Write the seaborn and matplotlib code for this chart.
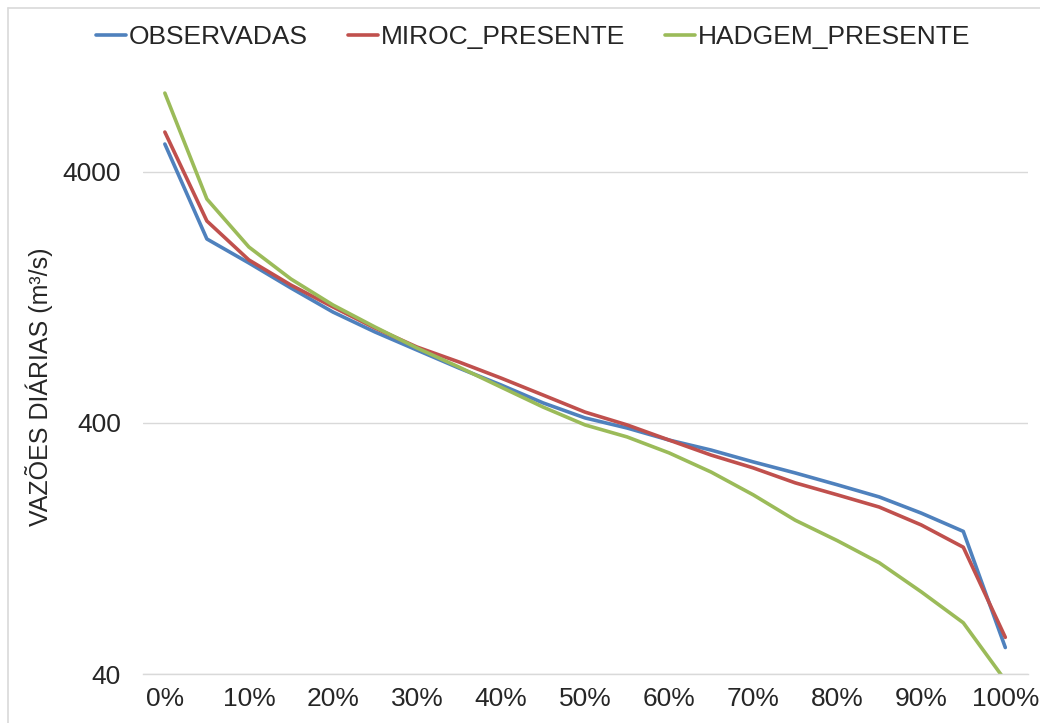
import numpy as np
import pandas as pd
import seaborn as sns
import matplotlib.pyplot as plt
from matplotlib.lines import Line2D
from matplotlib.ticker import FixedLocator, NullLocator, FuncFormatter

# Permanence (% of time) and daily flows
permanencia = [0, 5, 10, 15, 20, 25, 30, 35, 40, 45, 50,
               55, 60, 65, 70, 75, 80, 85, 90, 95, 100]
observadas = [5170, 2164, 1736, 1380, 1107, 922, 781, 662, 567, 481, 419,
              382, 342, 312, 280, 253, 227, 203, 175, 148, 51]
miroc_presente = [5770, 2552, 1785, 1418, 1160, 956, 803, 700, 604, 517, 442,
                  393, 342, 298, 265, 231, 207, 185, 157, 128, 56]
hadgem_presente = [8250, 3122, 2010, 1499, 1181, 965, 796, 668, 556, 463, 393,
                   352, 304, 255, 207, 164, 136, 111, 85, 64, 37.7]
series_names = ['OBSERVADAS', 'MIROC_PRESENTE', 'HADGEM_PRESENTE']
cores = ['#4F81BD', '#C0504D', '#9BBB59']
y_ticks = [40, 400, 4000]
x_ticks = list(range(0, 101, 10))

df = pd.DataFrame({'perm': permanencia,
                   'OBSERVADAS': observadas,
                   'MIROC_PRESENTE': miroc_presente,
                   'HADGEM_PRESENTE': hadgem_presente})
df = df.melt(id_vars='perm', var_name='serie', value_name='vazao')

sns.set_style('white')
plt.rcParams['font.family'] = ['Liberation Sans', 'DejaVu Sans']

fig = plt.figure(figsize=(10.4, 7.23), dpi=100)
W, H = 1040, 723
ax = fig.add_axes([143 / W, (H - 674) / H, (1028 - 143) / W, 674 / H])

sns.lineplot(data=df, x='perm', y='vazao', hue='serie', hue_order=series_names,
             palette=cores, linewidth=2.6, ax=ax, legend=False)

ax.set_yscale('log')
ax.set_ylim(40, 40 * 10 ** (674 / 251))
ax.set_xlim(-2.6, 102.7)
ax.yaxis.set_major_locator(FixedLocator(y_ticks))
ax.yaxis.set_minor_locator(NullLocator())
ax.yaxis.set_major_formatter(FuncFormatter(lambda v, p: f'{v:.0f}'))
ax.set_xticks(x_ticks)
ax.set_xticklabels([f'{t}%' for t in x_ticks])
ax.tick_params(axis='both', length=0, labelsize=19)
ax.tick_params(axis='y', pad=16)
ax.tick_params(axis='x', pad=9)
ax.grid(axis='y', color='#d9d9d9', linewidth=1)
ax.set_axisbelow(True)
for s in ['top', 'right', 'left']:
    ax.spines[s].set_visible(False)
ax.spines['bottom'].set_color('#d9d9d9')
ax.spines['bottom'].set_linewidth(1)

ax.set_xlabel('')
ax.set_ylabel('VAZÕES DIÁRIAS (m³/s)', fontsize=18)
ax.yaxis.set_label_coords(-0.102, 0.426)

handles = [Line2D([], [], color=c, linewidth=2.6) for c in cores]
fig.legend(handles, series_names, loc='center', bbox_to_anchor=(533 / W, 1 - 37 / H),
           ncol=3, frameon=False, fontsize=19, handlelength=1.15,
           handletextpad=0.1, columnspacing=1.5)

# chart area border (cropped at right and bottom)
fig.add_artist(Line2D([8 / W, 8 / W], [0, 1 - 8 / H], color='#d9d9d9', linewidth=1.2))
fig.add_artist(Line2D([8 / W, 1], [1 - 8 / H, 1 - 8 / H], color='#d9d9d9', linewidth=1.2))

fig.savefig('out.png', dpi=100)
